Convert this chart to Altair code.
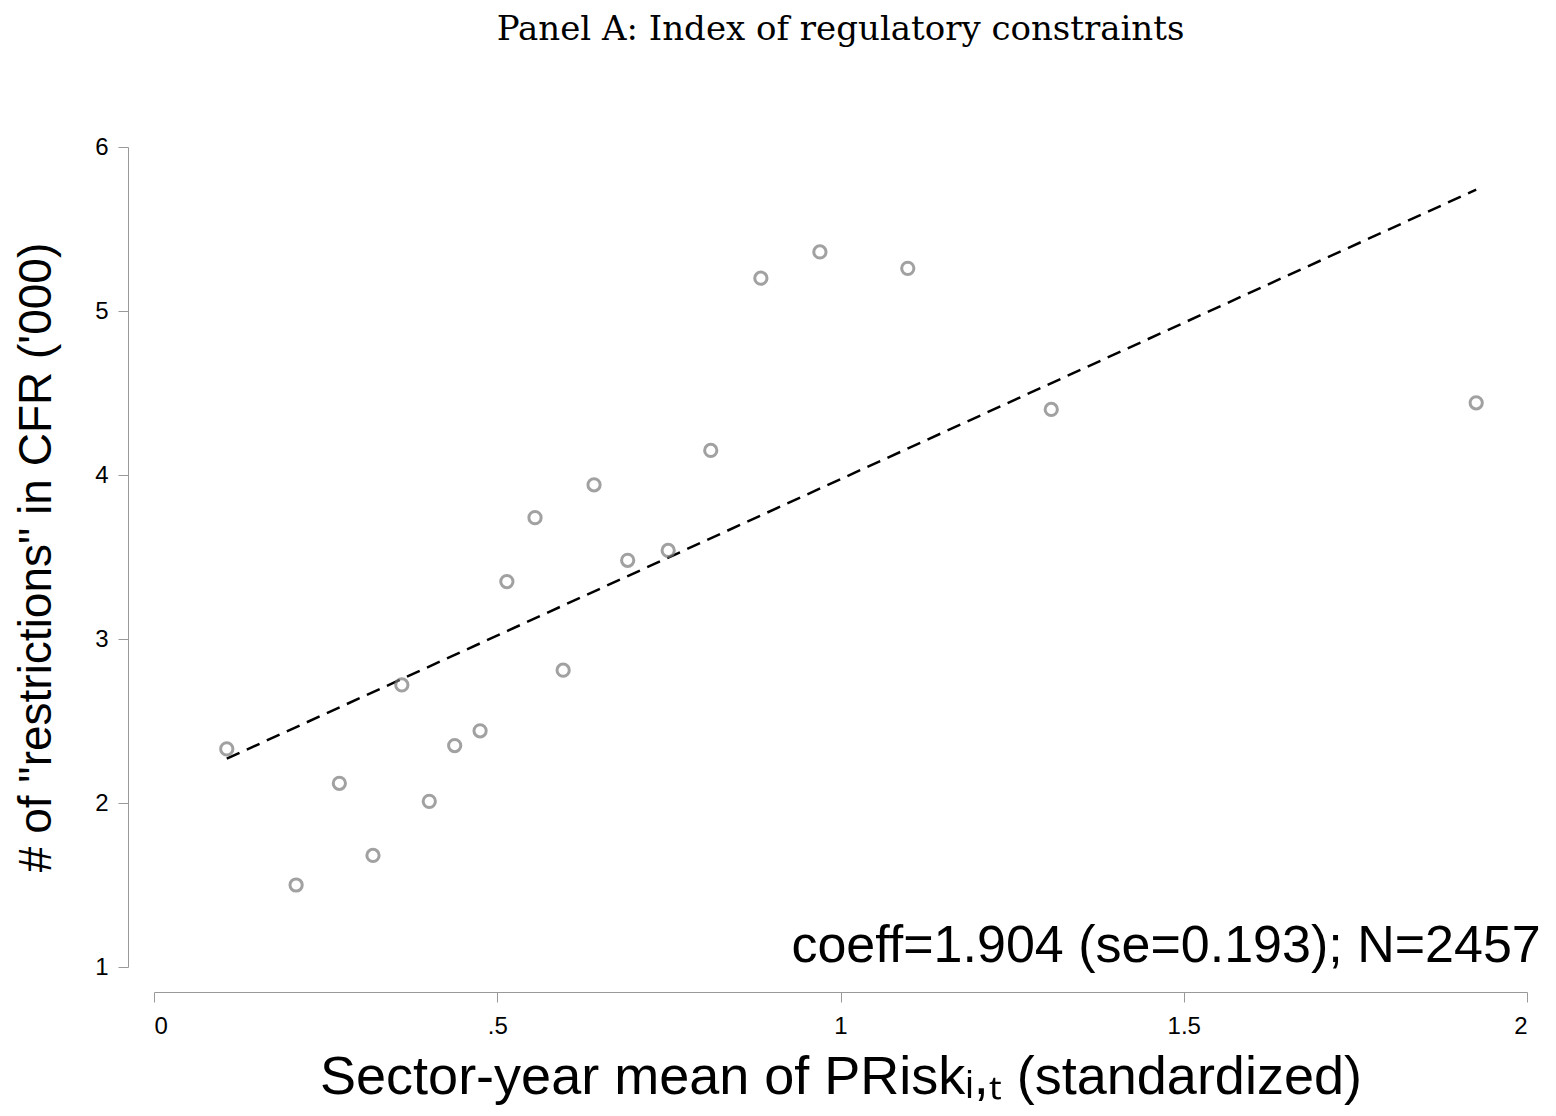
import altair as alt
import pandas as pd

# Binned scatter values
prisk = [0.106, 0.207, 0.270, 0.319, 0.361, 0.401, 0.438, 0.475, 0.514, 0.555,
         0.596, 0.641, 0.690, 0.749, 0.811, 0.884, 0.970, 1.098, 1.307, 1.926]
restrictions = [2.33, 1.50, 2.12, 1.68, 2.72, 2.01, 2.35, 2.44, 3.35, 3.74,
                2.81, 3.94, 3.48, 3.54, 4.15, 5.20, 5.36, 5.26, 4.40, 4.44]
fit_x = [0.106, 1.926]
fit_y = [2.27, 5.74]

pts = pd.DataFrame({"x": prisk, "y": restrictions})
fit = pd.DataFrame({"x": fit_x, "y": fit_y})
note = pd.DataFrame({"x": [2.02], "y": [1.0], "t": ["coeff=1.904 (se=0.193); N=2457"]})

xs = alt.Scale(domain=[0, 2], nice=False)
ys = alt.Scale(domain=[1, 6], nice=False)
font = "Liberation Sans"

xax = alt.Axis(values=[0, 0.5, 1, 1.5, 2],
               labelExpr="datum.value == 0.5 ? '.5' : datum.value == 1.5 ? '1.5' : format(datum.value, 'd')",
               grid=False, offset=25, domainColor="#999", tickColor="#999", tickSize=10,
               labelFontSize=24, labelFont=font, titleFontSize=54, titleFont=font,
               titleFontWeight="normal", titlePadding=12, labelPadding=12)
yax = alt.Axis(values=[1, 2, 3, 4, 5, 6], format="d", grid=False, offset=26, domainColor="#999",
               tickColor="#999", tickSize=10, labelFontSize=24, labelFont=font, titleFontSize=46,
               titleFont=font, titleFontWeight="normal", titlePadding=34, labelPadding=10)

points = alt.Chart(pts).mark_point(shape="circle", filled=False, size=150, strokeWidth=3, color="#7a7a7a").encode(
    x=alt.X("x:Q", scale=xs, axis=xax, title="Sector-year mean of PRiskᵢ,ₜ (standardized)"),
    y=alt.Y("y:Q", scale=ys, axis=yax, title="# of \"restrictions\" in CFR ('000)"),
)
line = alt.Chart(fit).mark_line(color="black", strokeWidth=2.5, strokeDash=[14, 8]).encode(
    x=alt.X("x:Q", scale=xs), y=alt.Y("y:Q", scale=ys)
)
text = alt.Chart(note).mark_text(align="right", baseline="bottom", fontSize=52, font=font, dy=6).encode(
    x=alt.X("x:Q", scale=xs), y=alt.Y("y:Q", scale=ys), text="t:N"
)

chart = alt.layer(line, points, text).properties(
    width=1373, height=820,
    title=alt.TitleParams("Panel A: Index of regulatory constraints", font="DejaVu Serif",
                          fontSize=34, fontWeight="normal", offset=88, anchor="middle"),
).configure(background="white").configure_view(stroke=None, strokeWidth=0)

chart.save("out.html", embed_options={"renderer": "svg", "actions": False})
